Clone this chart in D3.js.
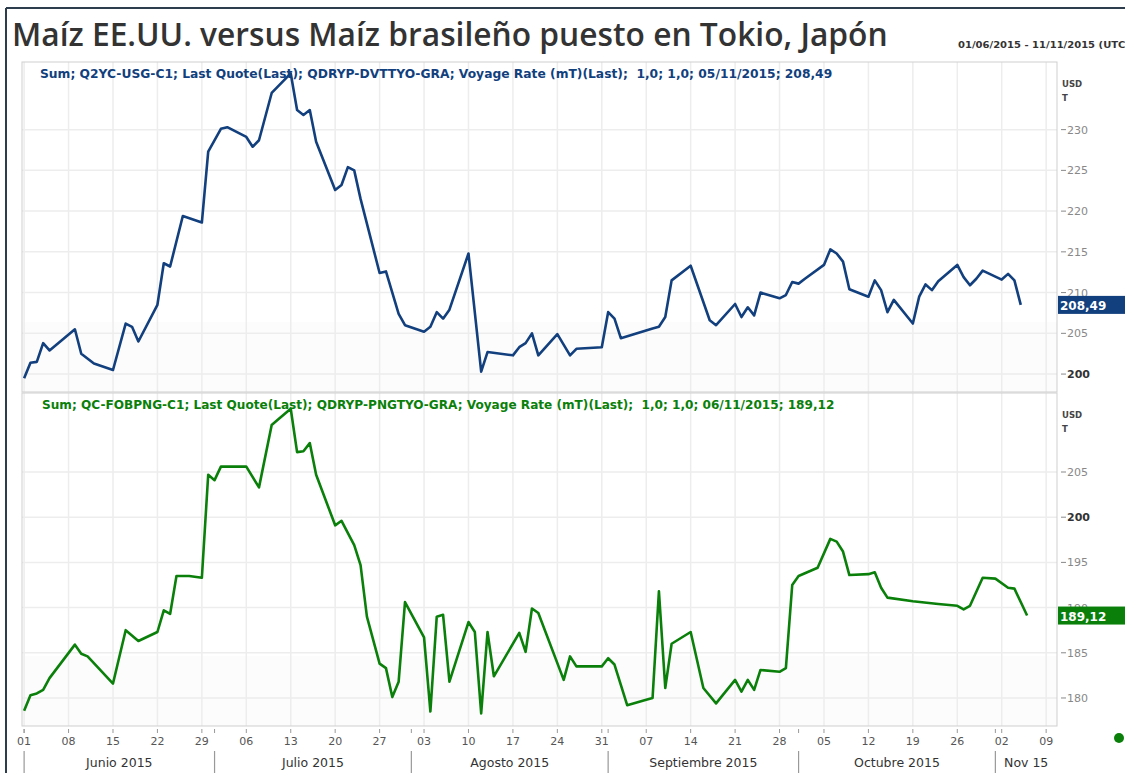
<!DOCTYPE html>
<html><head><meta charset="utf-8">
<script src="https://cdn.jsdelivr.net/npm/d3@7"></script>
<style>body{margin:0;background:#fff;overflow:hidden;} svg{display:block;}</style>
</head><body>
<svg id="c" width="1125" height="773"></svg>
<script>
// ---------------- data ----------------
const title = "Maíz EE.UU. versus Maíz brasileño puesto en Tokio, Japón";
const dateRange = "01/06/2015 - 11/11/2015 (UTC)";
const usLegend = "Sum; Q2YC-USG-C1; Last Quote(Last); QDRYP-DVTTYO-GRA; Voyage Rate (mT)(Last);  1,0; 1,0; 05/11/2015; 208,49";
const brLegend = "Sum; QC-FOBPNG-C1; Last Quote(Last); QDRYP-PNGTYO-GRA; Voyage Rate (mT)(Last);  1,0; 1,0; 06/11/2015; 189,12";
const usLastLabel = "208,49";
const brLastLabel = "189,12";
const usLastValue = 208.49;
const brLastValue = 189.12;
const unitLabel = ["USD", "T"];

const usDates = ["2015-06-01","2015-06-02","2015-06-03","2015-06-04","2015-06-05","2015-06-09","2015-06-10","2015-06-12","2015-06-15","2015-06-17","2015-06-18","2015-06-19","2015-06-22","2015-06-23","2015-06-24","2015-06-26","2015-06-29","2015-06-30","2015-07-02","2015-07-03","2015-07-06","2015-07-07","2015-07-08","2015-07-10","2015-07-11","2015-07-13","2015-07-14","2015-07-15","2015-07-16","2015-07-17","2015-07-20","2015-07-21","2015-07-22","2015-07-23","2015-07-24","2015-07-27","2015-07-28","2015-07-30","2015-07-31","2015-08-03","2015-08-04","2015-08-05","2015-08-06","2015-08-07","2015-08-10","2015-08-12","2015-08-13","2015-08-17","2015-08-18","2015-08-19","2015-08-20","2015-08-21","2015-08-24","2015-08-26","2015-08-27","2015-08-31","2015-09-01","2015-09-02","2015-09-03","2015-09-08","2015-09-09","2015-09-10","2015-09-11","2015-09-14","2015-09-17","2015-09-18","2015-09-21","2015-09-22","2015-09-23","2015-09-24","2015-09-25","2015-09-28","2015-09-29","2015-09-30","2015-10-01","2015-10-02","2015-10-05","2015-10-06","2015-10-07","2015-10-08","2015-10-09","2015-10-12","2015-10-13","2015-10-14","2015-10-15","2015-10-16","2015-10-19","2015-10-20","2015-10-21","2015-10-22","2015-10-23","2015-10-26","2015-10-27","2015-10-28","2015-10-29","2015-10-30","2015-11-02","2015-11-03","2015-11-04","2015-11-05"];
const usValues = [199.5,201.4,201.5,203.8,202.9,205.5,202.5,201.3,200.5,206.2,205.8,204.0,208.5,213.6,213.2,219.4,218.6,227.3,230.1,230.3,229.1,227.9,228.7,234.5,235.3,236.9,232.4,231.8,232.4,228.5,222.6,223.2,225.4,225.0,221.5,212.4,212.6,207.4,206.0,205.2,205.8,207.6,206.8,207.9,214.8,200.3,202.7,202.3,203.3,203.8,205.0,202.3,204.9,202.3,203.1,203.3,207.6,206.8,204.4,205.6,205.8,207.0,211.5,213.3,206.6,206.0,208.6,207.0,208.2,207.2,210.0,209.3,209.7,211.3,211.1,211.7,213.4,215.3,214.8,213.8,210.4,209.5,211.5,210.3,207.6,209.1,206.2,209.5,211.0,210.3,211.4,213.4,211.9,210.9,211.7,212.7,211.6,212.3,211.5,208.49];

const brDates = ["2015-06-01","2015-06-02","2015-06-03","2015-06-04","2015-06-05","2015-06-09","2015-06-10","2015-06-11","2015-06-15","2015-06-17","2015-06-19","2015-06-22","2015-06-23","2015-06-24","2015-06-25","2015-06-27","2015-06-29","2015-06-30","2015-07-01","2015-07-02","2015-07-06","2015-07-08","2015-07-10","2015-07-11","2015-07-13","2015-07-14","2015-07-15","2015-07-16","2015-07-17","2015-07-20","2015-07-21","2015-07-23","2015-07-24","2015-07-25","2015-07-27","2015-07-28","2015-07-29","2015-07-30","2015-07-31","2015-08-03","2015-08-04","2015-08-05","2015-08-06","2015-08-07","2015-08-10","2015-08-11","2015-08-12","2015-08-13","2015-08-14","2015-08-18","2015-08-19","2015-08-20","2015-08-21","2015-08-25","2015-08-26","2015-08-27","2015-08-31","2015-09-01","2015-09-02","2015-09-04","2015-09-07","2015-09-08","2015-09-09","2015-09-10","2015-09-11","2015-09-14","2015-09-16","2015-09-18","2015-09-21","2015-09-22","2015-09-23","2015-09-24","2015-09-25","2015-09-28","2015-09-29","2015-09-30","2015-10-01","2015-10-04","2015-10-06","2015-10-07","2015-10-08","2015-10-09","2015-10-12","2015-10-13","2015-10-14","2015-10-15","2015-10-19","2015-10-23","2015-10-26","2015-10-27","2015-10-28","2015-10-30","2015-11-01","2015-11-03","2015-11-04","2015-11-06"];
const brValues = [178.6,180.3,180.5,180.9,182.2,185.9,184.9,184.6,181.6,187.5,186.3,187.3,189.7,189.3,193.5,193.5,193.3,204.7,204.1,205.6,205.6,203.3,210.2,210.8,212.0,207.2,207.3,208.2,204.7,199.1,199.6,196.9,194.7,189.0,183.8,183.3,180.1,181.8,190.6,186.7,178.5,189.0,189.2,181.8,188.4,187.3,178.3,187.3,182.4,187.2,185.1,189.9,189.4,182.0,184.6,183.5,183.5,184.4,183.7,179.2,179.8,180.0,191.8,181.1,186.0,187.3,181.1,179.4,182.0,180.7,182.0,180.9,183.1,182.9,183.3,192.5,193.5,194.4,197.6,197.3,196.2,193.6,193.7,193.9,192.2,191.1,190.7,190.4,190.2,189.8,190.2,193.3,193.2,192.2,192.1,189.12];

const usTicks = [200,205,210,215,220,225,230];
const brTicks = [180,185,190,195,200,205];
const monthLabels = ["Junio 2015","Julio 2015","Agosto 2015","Septiembre 2015","Octubre 2015","Nov 15"];

// ---------------- layout ----------------
const W = 1125, H = 773;
const L = 22, R = 1057;
const topP = {y0: 62, y1: 392};
const botP = {y0: 393, y1: 726};
const parse = d3.timeParse("%Y-%m-%d");
const usData = usDates.map((d,i)=>({date: parse(d), v: usValues[i]}));
const brData = brDates.map((d,i)=>({date: parse(d), v: brValues[i]}));

const svg = d3.select("#c");
const FONT = "DejaVu Sans, Verdana, sans-serif";

const start = parse("2015-06-01"), endD = parse("2015-11-10");
const x = d3.scaleTime()
  .domain([d3.timeHour.offset(start, -8), d3.timeHour.offset(endD, 17)])
  .range([L, R]);
const yTop = d3.scaleLinear().domain([197.8, 238.3]).range([topP.y1, topP.y0]);
const yBot = d3.scaleLinear().domain([176.9, 213.74]).range([botP.y1, botP.y0]);

const weeks = d3.timeMonday.range(start, parse("2015-11-11"));
const months = d3.timeMonth.range(start, parse("2015-11-11"));

// frame
svg.append("line").attr("x1",6).attr("x2",W).attr("y1",8).attr("y2",8).attr("stroke","#2e3d4d").attr("stroke-width",2);
svg.append("line").attr("x1",6).attr("x2",6).attr("y1",8).attr("y2",H).attr("stroke","#2e3d4d").attr("stroke-width",2);

// title
const t = svg.append("text").attr("x",12).attr("y",46).attr("fill","#333").attr("font-weight",600)
  .attr("font-family","Open Sans, DejaVu Sans, sans-serif").attr("font-size",30).text(title);
{
  const w = t.node().getComputedTextLength();
  t.attr("font-size", 30 * 876 / w);
}
const dr = svg.append("text").attr("x",958).attr("y",48).attr("fill","#333").attr("font-weight","bold")
  .attr("font-family",FONT).attr("font-size",8.5).text(dateRange);
{
  const w = dr.node().getComputedTextLength();
  dr.attr("textLength", 172).attr("lengthAdjust","spacingAndGlyphs");
}

function panel(p, y, ticks, data, color, legend, lastVal, lastLabel, clipId, legendX) {
  const g = svg.append("g");
  // light shading near bottom of panel
  g.append("rect").attr("x",L).attr("y",p.y1-70).attr("width",R-L).attr("height",70).attr("fill","#fcfcfc");
  // gridlines
  g.selectAll(".vg").data(weeks).enter().append("line")
    .attr("x1",d=>x(d)).attr("x2",d=>x(d)).attr("y1",p.y0).attr("y2",p.y1)
    .attr("stroke","#ededed").attr("stroke-width",1.5);
  g.selectAll(".hg").data(ticks).enter().append("line")
    .attr("x1",L).attr("x2",R).attr("y1",d=>y(d)).attr("y2",d=>y(d))
    .attr("stroke","#ededed").attr("stroke-width",1.5);
  // border
  g.append("rect").attr("x",L).attr("y",p.y0).attr("width",R-L).attr("height",p.y1-p.y0)
    .attr("fill","none").attr("stroke","#cfcfcf").attr("stroke-width",1);
  // legend
  const lt = g.append("text").attr("x",legendX).attr("y",p.y0+16).attr("fill",color)
    .attr("font-family",FONT).attr("font-weight","bold").attr("font-size",10.5)
    .attr("xml:space","preserve").style("white-space","pre").text(legend);
  { const w = lt.node().getComputedTextLength(); lt.attr("font-size", 10.5*793/w); }
  // right axis
  const ax = g.append("g");
  ax.selectAll("line").data(ticks).enter().append("line")
    .attr("x1",R+4).attr("x2",R+9).attr("y1",d=>y(d)).attr("y2",d=>y(d))
    .attr("stroke","#888").attr("stroke-width",1);
  ax.selectAll("text").data(ticks).enter().append("text")
    .attr("x",R+10).attr("y",d=>y(d)+4).attr("font-family",FONT).attr("font-size",11)
    .attr("fill",d=> d===200 ? "#333":"#888").attr("font-weight", d=> d===200 ? "bold":"normal")
    .text(d=>d);
  g.append("text").attr("x",R+5).attr("y",p.y0+25).attr("font-family",FONT).attr("font-size",8.5)
    .attr("font-weight","bold").attr("fill","#444").text(unitLabel[0]);
  g.append("text").attr("x",R+5).attr("y",p.y0+39).attr("font-family",FONT).attr("font-size",8.5)
    .attr("font-weight","bold").attr("fill","#444").text(unitLabel[1]);
  // clip
  svg.append("clipPath").attr("id",clipId).append("rect")
    .attr("x",L).attr("y",p.y0).attr("width",R-L).attr("height",p.y1-p.y0);
  // line
  const line = d3.line().x(d=>x(d.date)).y(d=>y(d.v));
  g.append("path").datum(data).attr("d",line).attr("fill","none").attr("stroke",color)
    .attr("stroke-width",2.6).attr("stroke-linejoin","round").attr("clip-path",`url(#${clipId})`);
  // last value box
  const yl = y(lastVal);
  g.append("rect").attr("x",R+1).attr("y",yl-9).attr("width",W-R).attr("height",18).attr("fill",color);
  g.append("text").attr("x",R+3).attr("y",yl+5).attr("font-family",FONT).attr("font-size",12)
    .attr("font-weight","bold").attr("fill","#fff").text(lastLabel);
}

panel(topP, yTop, usTicks, usData, "#123f7d", usLegend, usLastValue, usLastLabel, "clipTop", 40);
panel(botP, yBot, brTicks, brData, "#0a800a", brLegend, brLastValue, brLastLabel, "clipBot", 42);

// x axis
const xa = svg.append("g");
xa.selectAll(".tk").data(weeks.concat(months)).enter().append("line")
  .attr("x1",d=>x(d)).attr("x2",d=>x(d)).attr("y1",botP.y1+3).attr("y2",botP.y1+7)
  .attr("stroke","#999").attr("stroke-width",1);
xa.selectAll(".tl").data(weeks).enter().append("text")
  .attr("x",d=>x(d)).attr("y",botP.y1+19).attr("text-anchor","middle")
  .attr("font-family",FONT).attr("font-size",11).attr("fill","#555")
  .text(d3.timeFormat("%d"));
xa.selectAll(".ms").data(months).enter().append("line")
  .attr("x1",d=>x(d)).attr("x2",d=>x(d)).attr("y1",751).attr("y2",H)
  .attr("stroke","#999").attr("stroke-width",1.2);
xa.selectAll(".ml").data(months).enter().append("text")
  .attr("x",(d,i)=>{
    const a = Math.max(x(d), L);
    const b = Math.min(x(d3.timeMonth.offset(d,1)), R);
    return (a+b)/2;
  })
  .attr("y",767).attr("text-anchor","middle").attr("font-family",FONT).attr("font-size",12.5)
  .attr("fill","#333").text((d,i)=>monthLabels[i]);

// status dot
svg.append("circle").attr("cx",1119).attr("cy",738).attr("r",5).attr("fill","#0a800a");
</script>
</body></html>
